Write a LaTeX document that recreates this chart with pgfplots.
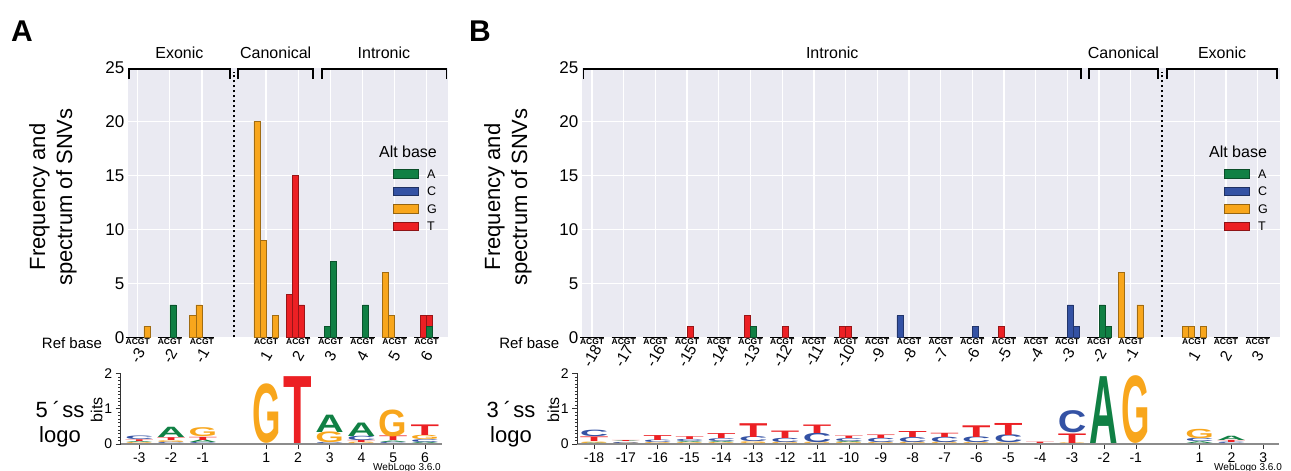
\documentclass[border=0pt]{standalone}
\usepackage{pgfplots}
\pgfplotsset{compat=1.18}
\usepackage{fontspec}
\setmainfont{Liberation Sans}
\usepackage{graphicx}

\definecolor{cA}{RGB}{16,128,68}
\definecolor{cC}{RGB}{52,82,164}
\definecolor{cG}{RGB}{248,166,28}
\definecolor{cT}{RGB}{236,32,36}
\definecolor{bgc}{RGB}{234,234,242}

\newcommand\fs[1]{\fontsize{#1}{#1}\selectfont}

\pgfplotsset{
  barax/.style={anchor=south west, y=10.8pt, ymin=0, ymax=25, clip=false,
    axis line style={draw=none}, axis background/.style={fill=bgc},
    grid=major, grid style={white, line width=1.3pt}, major tick length=0pt,
    ytick={0,5,...,25}, yticklabel style={font=\fs{17}},
    xticklabel style={font=\fs{15.5}, yshift=-18.5pt, anchor=center, rotate=60},
    /pgf/number format/assume math mode=true},
  logoax/.style={anchor=south west, y=35.35pt, ymin=0, ymax=2, clip=false,
    axis x line=bottom, axis y line=left,
    x axis line style={-, black!45, line width=1.5pt},
    y axis line style={-, black!80, line width=0.8pt},
    ytick={0,1,2}, minor y tick num=9, tick align=outside,
    major tick length=5pt, minor tick length=2.5pt,
    tick style={black!80, line width=0.6pt},
    yticklabel style={font=\fs{14}}, xticklabel style={font=\fs{14}},
    /pgf/number format/assume math mode=true},
  rbar/.style={ybar, bar width=0.19, bar shift=0pt, fill=#1, draw=#1!65!black, line width=0.6pt},
  acgt/.style={draw=none, mark=none, nodes near coords={\bfseries ACGT},
    every node near coord/.style={font=\fs{8.5}, anchor=center, yshift=-4.4pt}},
  base/.style={black, line width=1.2pt, unbounded coords=jump, mark=none}
}
\tikzset{
  brk/.style={line width=1.8pt},
  sepline/.style={black, line width=2pt, dash pattern=on 2.4pt off 2.6pt}
}

% stacked logo letters: x / bottom / height (bits) / letter / colour
\newcommand\logo[1]{%
  \foreach \px/\py/\ph/\pl/\pc in {#1}{%
    \pgfmathsetlengthmacro\lh{\ph*35.35}%
    \edef\tmp{\noexpand\node[anchor=south,inner sep=0pt,text=\pc] at (axis cs:\px,\py)
      {\noexpand\resizebox{28.5pt}{\lh}{\noexpand\bfseries\pl}};}%
    \tmp}}

\begin{document}
\begin{tikzpicture}
\path[use as bounding box] (0,0) rectangle (1291pt,471pt);

% ---------------- panel A ----------------
\node[font=\fs{30}\bfseries] at (22pt,440pt) {A};
\node[font=\fontsize{22}{27}\selectfont, rotate=90, align=center] at (53pt,274pt) {Frequency and\\spectrum of SNVs};
\node[font=\fs{15}] at (72pt,128.3pt) {Ref base};

\begin{axis}[barax, at={(127.75pt,133.7pt)}, x=32.1pt, xmin=-0.31, xmax=9.68,
  xtick={0,1,2,4,5,6,7,8,9}, xticklabels={-3,-2,-1,1,2,3,4,5,6}]
\addplot[base] coordinates {(-0.38,0) (0.38,0) (0.5,nan) (0.62,0) (1.38,0) (1.5,nan)
  (1.62,0) (2.38,0) (3,nan) (3.62,0) (4.38,0) (4.5,nan) (4.62,0) (5.38,0) (5.5,nan)
  (5.62,0) (6.38,0) (6.5,nan) (6.62,0) (7.38,0) (7.5,nan) (7.62,0) (8.38,0) (8.5,nan)
  (8.62,0) (9.38,0)};
\addplot[rbar=cG] coordinates {(0.285,1) (1.715,2) (1.905,3) (3.715,20) (3.905,9) (4.285,2) (7.715,6) (7.905,2)};
\addplot[rbar=cT] coordinates {(4.715,4) (4.905,15) (5.095,3) (8.905,2) (9.095,2)};
\addplot[rbar=cA] coordinates {(1.095,3) (5.905,1) (6.095,7) (7.095,3) (9.095,1)};
\addplot[acgt] coordinates {(0,0) (1,0) (2,0) (4,0) (5,0) (6,0) (7,0) (8,0) (9,0)};
\draw[sepline] (axis cs:3,0) -- (axis cs:3,24.6);
\draw[brk] (axis cs:-0.27,23.9) |- (axis cs:2.87,24.82) -- (axis cs:2.87,23.9);
\draw[brk] (axis cs:3.13,23.9) |- (axis cs:5.47,24.82) -- (axis cs:5.47,23.9);
\draw[brk] (axis cs:5.73,23.9) |- (axis cs:9.62,24.82) -- (axis cs:9.62,23.9);
\node[font=\fs{16}] at (axis cs:1.3,26.3) {Exonic};
\node[font=\fs{16}] at (axis cs:4.3,26.3) {Canonical};
\node[font=\fs{16}] at (axis cs:7.67,26.3) {Intronic};
\end{axis}

\node[font=\fs{16}] at (408pt,319pt) {Alt base};
\foreach \yy/\cc/\ll in {297/cA/A, 279.5/cC/C, 262/cG/G, 244.5/cT/T}{
  \draw[fill=\cc, draw=\cc!60!black, line width=0.5pt] (393pt,\yy pt-4.25pt) rectangle (418pt,\yy pt+4.25pt);
  \node[font=\fs{12.5}, anchor=west, inner sep=0pt] at (427pt,\yy pt) {\ll};
}

\begin{axis}[logoax, at={(120.7pt,27pt)}, x=31.74pt, xmin=-0.586, xmax=9.53,
  xtick={0,1,2,4,5,6,7,8,9}, xticklabels={-3,-2,-1,1,2,3,4,5,6}]
\logo{0/0/0.03/G/cG, 0/0.03/0.03/A/cA, 0/0.06/0.05/T/cT, 0/0.11/0.10/C/cC,
  1/0/0.04/C/cC, 1/0.04/0.05/G/cG, 1/0.09/0.08/T/cT, 1/0.17/0.29/A/cA,
  2/0/0.03/C/cC, 2/0.03/0.07/A/cA, 2/0.10/0.09/T/cT, 2/0.19/0.25/G/cG,
  4/0/1.66/G/cG, 5/0/1.89/T/cT,
  6/0/0.03/C/cC, 6/0.03/0.30/G/cG, 6/0.33/0.49/A/cA,
  7/0/0.04/G/cG, 7/0.04/0.06/T/cT, 7/0.10/0.12/C/cC, 7/0.22/0.38/A/cA,
  8/0/0.04/C/cC, 8/0.04/0.04/A/cA, 8/0.08/0.13/T/cT, 8/0.21/0.75/G/cG,
  9/0/0.04/A/cA, 9/0.04/0.08/C/cC, 9/0.12/0.12/G/cG, 9/0.24/0.30/T/cT}
\end{axis}
\node[font=\fontsize{22}{25.5}\selectfont, align=center] at (60pt,47pt) {5\hspace{5pt}´\hspace{2pt}ss\\logo};
\node[font=\fs{16}, rotate=90] at (96.7pt,61pt) {bits};
\node[font=\fs{10}] at (407pt,3.5pt) {WebLogo 3.6.0};

% ---------------- panel B ----------------
\node[font=\fs{30}\bfseries] at (480pt,440pt) {B};
\node[font=\fontsize{22}{27}\selectfont, rotate=90, align=center] at (508pt,274pt) {Frequency and\\spectrum of SNVs};
\node[font=\fs{15}] at (529.3pt,128.3pt) {Ref base};

\begin{axis}[barax, at={(581.9pt,133.7pt)}, x=31.69pt, xmin=-0.32, xmax=21.71,
  xtick={0,1,...,17,19,20,21},
  xticklabels={-18,-17,-16,-15,-14,-13,-12,-11,-10,-9,-8,-7,-6,-5,-4,-3,-2,-1,1,2,3}]
\addplot[base] coordinates {(-0.38,0) (0.38,0) (0.5,nan) (0.62,0) (1.38,0) (1.5,nan)
  (1.62,0) (2.38,0) (2.5,nan) (2.62,0) (3.38,0) (3.5,nan) (3.62,0) (4.38,0) (4.5,nan)
  (4.62,0) (5.38,0) (5.5,nan) (5.62,0) (6.38,0) (6.5,nan) (6.62,0) (7.38,0) (7.5,nan)
  (7.62,0) (8.38,0) (8.5,nan) (8.62,0) (9.38,0) (9.5,nan) (9.62,0) (10.38,0) (10.5,nan)
  (10.62,0) (11.38,0) (11.5,nan) (11.62,0) (12.38,0) (12.5,nan) (12.62,0) (13.38,0) (13.5,nan)
  (13.62,0) (14.38,0) (14.5,nan) (14.62,0) (15.38,0) (15.5,nan) (15.62,0) (16.38,0) (16.5,nan)
  (16.62,0) (17.38,0) (18,nan) (18.62,0) (19.38,0) (19.5,nan) (19.62,0) (20.38,0) (20.5,nan)
  (20.62,0) (21.38,0)};
\addplot[rbar=cT] coordinates {(3.095,1) (4.905,2) (6.095,1) (7.905,1) (8.095,1) (12.905,1)};
\addplot[rbar=cA] coordinates {(5.095,1) (16.095,3) (16.285,1)};
\addplot[rbar=cC] coordinates {(9.715,2) (12.095,1) (15.095,3) (15.285,1)};
\addplot[rbar=cG] coordinates {(16.715,6) (17.285,3) (18.715,1) (18.905,1) (19.285,1)};
\addplot[acgt] coordinates {(0,0) (1,0) (2,0) (3,0) (4,0) (5,0) (6,0) (7,0) (8,0) (9,0)
  (10,0) (11,0) (12,0) (13,0) (14,0) (15,0) (16,0) (17,0) (19,0) (20,0) (21,0)};
\draw[sepline] (axis cs:18,0) -- (axis cs:18,24.6);
\draw[brk] (axis cs:-0.27,23.9) |- (axis cs:15.42,24.82) -- (axis cs:15.42,23.9);
\draw[brk] (axis cs:15.68,23.9) |- (axis cs:17.86,24.82) -- (axis cs:17.86,23.9);
\draw[brk] (axis cs:18.14,23.9) |- (axis cs:21.62,24.82) -- (axis cs:21.62,23.9);
\node[font=\fs{16}] at (axis cs:7.58,26.3) {Intronic};
\node[font=\fs{16}] at (axis cs:16.77,26.3) {Canonical};
\node[font=\fs{16}] at (axis cs:19.88,26.3) {Exonic};
\end{axis}

\node[font=\fs{16}] at (1238pt,319pt) {Alt base};
\foreach \yy/\cc/\ll in {297/cA/A, 279.5/cC/C, 262/cG/G, 244.5/cT/T}{
  \draw[fill=\cc, draw=\cc!60!black, line width=0.5pt] (1224pt,\yy pt-4.25pt) rectangle (1249pt,\yy pt+4.25pt);
  \node[font=\fs{12.5}, anchor=west, inner sep=0pt] at (1258pt,\yy pt) {\ll};
}

\begin{axis}[logoax, at={(577.3pt,27pt)}, x=31.87pt, xmin=-0.524, xmax=21.5,
  xtick={0,1,...,17,19,20,21},
  xticklabels={-18,-17,-16,-15,-14,-13,-12,-11,-10,-9,-8,-7,-6,-5,-4,-3,-2,-1,1,2,3}]
\logo{0/0/0.02/A/cA, 0/0.02/0.04/G/cG, 0/0.06/0.13/T/cT, 0/0.19/0.18/C/cC,
  1/0/0.02/G/cG, 1/0.02/0.03/C/cC, 1/0.05/0.02/A/cA, 1/0.07/0.03/T/cT,
  2/0/0.03/G/cG, 2/0.03/0.07/C/cC, 2/0.10/0.14/T/cT,
  3/0/0.03/G/cG, 3/0.03/0.03/A/cA, 3/0.06/0.06/C/cC, 3/0.12/0.08/T/cT,
  4/0/0.03/G/cG, 4/0.03/0.03/A/cA, 4/0.06/0.08/C/cC, 4/0.14/0.14/T/cT,
  5/0/0.05/G/cG, 5/0.05/0.14/C/cC, 5/0.19/0.39/T/cT,
  6/0/0.04/G/cG, 6/0.04/0.12/C/cC, 6/0.16/0.21/T/cT,
  7/0/0.04/G/cG, 7/0.04/0.26/C/cC, 7/0.30/0.24/T/cT,
  8/0/0.04/G/cG, 8/0.04/0.03/A/cA, 8/0.07/0.08/C/cC, 8/0.15/0.07/T/cT,
  9/0/0.03/G/cG, 9/0.03/0.12/C/cC, 9/0.15/0.10/T/cT,
  10/0/0.04/G/cG, 10/0.04/0.14/C/cC, 10/0.18/0.17/T/cT,
  11/0/0.04/G/cG, 11/0.04/0.15/C/cC, 11/0.19/0.12/T/cT,
  12/0/0.03/G/cG, 12/0.03/0.16/C/cC, 12/0.19/0.33/T/cT,
  13/0/0.02/G/cG, 13/0.02/0.22/C/cC, 13/0.24/0.34/T/cT,
  14/0/0.04/T/cT,
  15/0/0.02/G/cG, 15/0.02/0.27/T/cT, 15/0.30/0.62/C/cC,
  16/0/1.89/A/cA, 17/0/1.89/G/cG,
  19/0/0.05/A/cA, 19/0.05/0.09/C/cC, 19/0.14/0.26/G/cG,
  20/0/0.04/C/cC, 20/0.04/0.06/T/cT, 20/0.10/0.12/A/cA}
\end{axis}
\node[font=\fontsize{22}{25.5}\selectfont, align=center] at (511pt,47pt) {3\hspace{5pt}´\hspace{2pt}ss\\logo};
\node[font=\fs{16}, rotate=90] at (553.3pt,61pt) {bits};
\node[font=\fs{10}] at (1248pt,3.5pt) {WebLogo 3.6.0};
\end{tikzpicture}
\end{document}
